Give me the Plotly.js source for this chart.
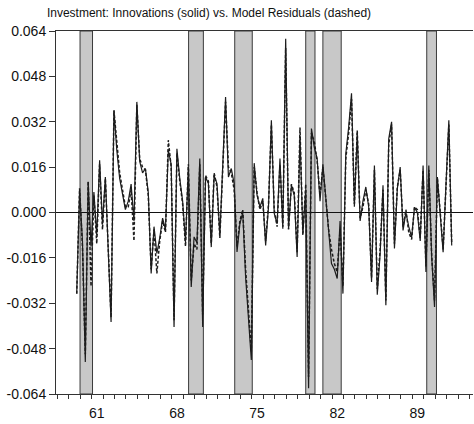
<!DOCTYPE html>
<html>
<head>
<meta charset="utf-8">
<script src="https://cdn.plot.ly/plotly-3.0.1.min.js"></script>
<style>html,body{margin:0;padding:0;background:#fff;}#chart{width:474px;height:424px;}</style>
</head>
<body>
<div id="chart"></div>
<script>
// Quarterly series, first quarter and step (decimal years)
const startYear = 1960.0;
const quarterStep = 0.25;

// Innovations (solid)
const innovations = [
 -0.0286, 0.0078, -0.010, -0.0527, 0.0108, -0.012, 0.0072, -0.008, 0.0184, -0.004,
  0.0125, -0.012, -0.0386, 0.036, 0.022, 0.012, 0.006, 0.001, 0.004, 0.010,
 -0.003, 0.039, 0.018, 0.014, 0.0155, 0.007, -0.0215, -0.005, -0.0144, -0.009,
 -0.002, -0.006, 0.022, 0.017, -0.0404, 0.0225, 0.012, 0.004, -0.0104, 0.016,
 -0.0263, -0.0086, -0.0107, 0.019, -0.0404, 0.0125, 0.0102, -0.0122, 0.013, 0.0102,
 -0.008, 0.018, 0.0407, 0.0125, 0.0155, 0.0102, -0.0139, -0.004, 0.000, -0.0227,
 -0.036, -0.052, 0.0174, 0.006, 0.002, 0.005, -0.0116, 0.002, 0.0325, -0.0003,
 -0.004, 0.019, -0.0057, 0.0613, -0.0057, 0.0096, 0.006, -0.0157, 0.027, -0.0074,
  0.008, -0.062, 0.0296, 0.023, 0.019, 0.004, 0.017, 0.005, -0.008, -0.018,
 -0.020, -0.0233, -0.003, -0.0286, 0.0207, 0.030, 0.042, 0.002, 0.028, -0.003,
  0.0041, 0.009, 0.002, -0.0245, 0.0166, -0.029, -0.0145, 0.0096, -0.0327, 0.026,
  0.032, -0.0127, 0.0084, 0.016, -0.0063, 0.000, -0.005, -0.0088, 0.0018, 0.000,
 -0.010, 0.0166, -0.021, 0.0166, -0.0155, -0.0333, 0.0125, -0.0006, -0.014, 0.010,
  0.0325, -0.0116
];

// Model residuals (dashed)
const residuals = [
 -0.0286, 0.0085, -0.012, -0.050, 0.011, -0.026, 0.006, -0.011, 0.017, -0.006,
  0.012, -0.014, -0.037, 0.036, 0.024, 0.014, 0.008, 0.002, 0.002, 0.008,
 -0.010, 0.038, 0.019, 0.016, 0.015, 0.006, -0.020, -0.006, -0.0215, -0.010,
 -0.003, -0.007, 0.0255, 0.016, -0.038, 0.021, 0.011, 0.003, -0.012, 0.017,
 -0.024, -0.011, -0.013, 0.017, -0.036, 0.013, 0.011, -0.011, 0.014, 0.009,
 -0.009, 0.016, 0.039, 0.016, 0.014, 0.008, -0.012, -0.003, 0.001, -0.020,
 -0.034, -0.049, 0.016, 0.007, 0.001, 0.004, -0.010, 0.003, 0.031, 0.001,
 -0.005, 0.017, -0.005, 0.058, -0.006, 0.010, 0.007, -0.014, 0.030, -0.008,
  0.010, -0.058, 0.028, 0.025, 0.018, 0.006, 0.016, 0.004, -0.006, -0.013,
 -0.018, -0.021, -0.006, -0.026, 0.019, 0.028, 0.040, 0.003, 0.029, -0.002,
  0.002, 0.008, 0.003, -0.023, 0.015, -0.027, -0.013, 0.008, -0.031, 0.024,
  0.031, -0.011, 0.009, 0.015, -0.005, 0.001, -0.007, -0.0095, 0.002, 0.001,
 -0.009, 0.015, -0.019, 0.015, -0.015, -0.031, 0.012, 0.000, -0.013, 0.009,
  0.031, -0.011
];

// Recession periods (decimal years)
const recessionStart = [1960.29, 1969.77, 1973.80, 1980.00, 1981.50, 1990.57];
const recessionEnd   = [1961.38, 1971.06, 1975.33, 1980.81, 1983.10, 1991.42];

// Axis ticks
const yTickVals = [-0.064, -0.048, -0.032, -0.016, 0, 0.016, 0.032, 0.048, 0.064];
const yTickText = ["-0.064", "-0.048", "-0.032", "-0.016", "0.000", "0.016", "0.032", "0.048", "0.064"];
const xLabelYears = [1961, 1968, 1975, 1982, 1989];
const xLabelText = ["61", "68", "75", "82", "89"];
const yearTickYears = [];
for (let y = 1958; y <= 1994; y++) yearTickYears.push(y);

const dates = innovations.map((_, i) => startYear + i * quarterStep);

const font = "Liberation Sans, Arial, Helvetica, sans-serif";

const shapes = recessionStart.map((s, k) => ({
  type: "rect", xref: "x", yref: "paper",
  x0: s, x1: recessionEnd[k], y0: 0, y1: 1,
  fillcolor: "#c8c8c8", line: {color: "#3a3a3a", width: 1}, layer: "below"
}));

const traces = [
  {x: dates, y: residuals, type: "scatter", mode: "lines",
   line: {color: "#1c1c1c", width: 1.5, dash: "3px,2px"}, hoverinfo: "skip"},
  {x: dates, y: innovations, type: "scatter", mode: "lines",
   line: {color: "#1c1c1c", width: 1.2}, hoverinfo: "skip"}
];

const layout = {
  width: 474, height: 424,
  margin: {l: 56, r: 1, t: 31, b: 30},
  paper_bgcolor: "#fff", plot_bgcolor: "#fff",
  showlegend: false,
  font: {family: font, color: "#111", size: 14},
  title: {
    text: "Investment: Innovations (solid) vs. Model Residuals (dashed)",
    font: {family: font, size: 12, color: "#111"},
    xref: "container", yref: "container",
    x: 0.099, xanchor: "left", y: 0.969, yanchor: "middle"
  },
  xaxis: {
    range: [1958.19, 1994.61],
    tickmode: "array",
    tickvals: xLabelYears.map(y => y + 0.75),
    ticktext: xLabelText,
    ticks: "outside", ticklen: 6, tickcolor: "rgba(0,0,0,0)",
    minor: {tickmode: "array", tickvals: yearTickYears.map(y => y + 0.3),
            ticks: "outside", ticklen: 4, tickcolor: "#333", tickwidth: 1, showgrid: false},
    showgrid: false, zeroline: false,
    showline: true, linecolor: "#333", linewidth: 1, mirror: true,
    tickfont: {family: font, size: 14, color: "#111"}
  },
  yaxis: {
    range: [-0.064, 0.064],
    tickmode: "array", tickvals: yTickVals, ticktext: yTickText,
    ticks: "outside", ticklen: 6, tickcolor: "#333", tickwidth: 1,
    showgrid: false,
    zeroline: true, zerolinecolor: "#111", zerolinewidth: 1,
    showline: true, linecolor: "#333", linewidth: 1,
    tickfont: {family: font, size: 14, color: "#111"}
  },
  shapes: shapes
};

Plotly.newPlot("chart", traces, layout, {staticPlot: true, displayModeBar: false});
</script>
</body>
</html>
